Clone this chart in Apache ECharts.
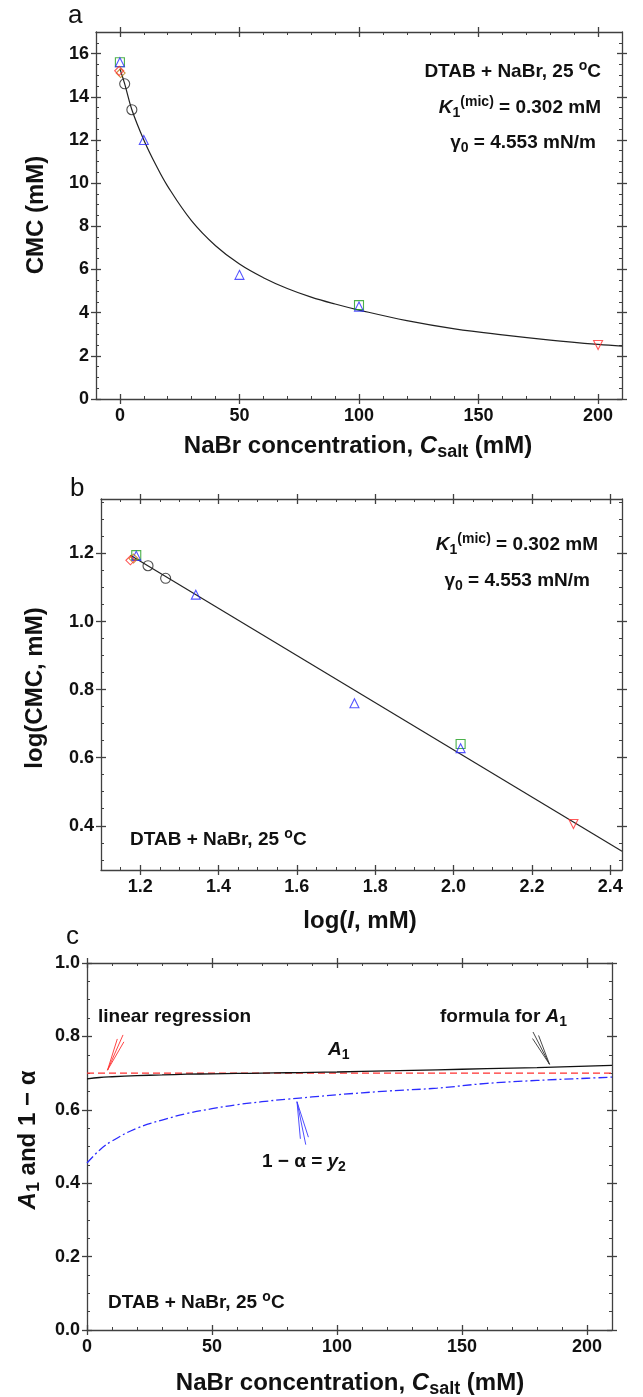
<!DOCTYPE html>
<html>
<head>
<meta charset="utf-8">
<script src="https://cdn.jsdelivr.net/npm/echarts@6/dist/echarts.min.js"></script>
<style>html,body{margin:0;padding:0;background:#fff}#c{width:643px;height:1397px}</style>
</head>
<body>
<div id="c"></div>
<script>
// ---------- DATA ----------
// Panel a: CMC vs NaBr concentration
const aFitX = [0, 2, 5, 10, 15, 20, 30, 40, 50, 60, 70, 80, 90, 100, 120, 140, 160, 180, 200, 210];
const aFitY = [15.3, 14.6, 13.4, 12.0, 10.85, 9.85, 8.25, 7.1, 6.25, 5.62, 5.12, 4.72, 4.40, 4.12, 3.63, 3.25, 2.97, 2.73, 2.53, 2.45];
const aCircleX = [2, 5];            const aCircleY = [14.6, 13.4];
const aTriX = [0, 10, 50, 100];     const aTriY = [15.6, 12.0, 5.75, 4.28];
const aSquareX = [0, 100];          const aSquareY = [15.6, 4.35];
const aDiamondRedX = [-0.3];        const aDiamondRedY = [15.2];
const aDiamondOrX = [0.3];          const aDiamondOrY = [15.1];
const aInvTriX = [200];             const aInvTriY = [2.5];
const aXTicks = [0, 50, 100, 150, 200];
const aYTicks = [0, 2, 4, 6, 8, 10, 12, 14, 16];

// Panel b: log(CMC) vs log(I)
const bLineX = [1.175, 2.43];       const bLineY = [1.195, 0.325];
const bCircleX = [1.22, 1.265];     const bCircleY = [1.164, 1.127];
const bTriX = [1.19, 1.342, 1.747, 2.018]; const bTriY = [1.193, 1.079, 0.76, 0.628];
const bSquareX = [1.19, 2.018];     const bSquareY = [1.195, 0.64];
const bDiamondRedX = [1.175];       const bDiamondRedY = [1.18];
const bDiamondOrX = [1.183];        const bDiamondOrY = [1.185];
const bInvTriX = [2.306];           const bInvTriY = [0.405];
const bXTicks = [1.2, 1.4, 1.6, 1.8, 2.0, 2.2, 2.4];
const bYTicks = [0.4, 0.6, 0.8, 1.0, 1.2];

// Panel c: A1 and 1 - alpha vs NaBr concentration
const cX   = [0, 5, 10, 20, 30, 40, 50, 60, 70, 80, 90, 100, 120, 140, 160, 180, 200, 210];
const cA1  = [0.684, 0.688, 0.690, 0.693, 0.695, 0.697, 0.698, 0.699, 0.700, 0.701, 0.702, 0.703, 0.706, 0.709, 0.712, 0.715, 0.719, 0.721];
const cY2  = [0.455, 0.49, 0.515, 0.55, 0.572, 0.59, 0.603, 0.614, 0.622, 0.629, 0.635, 0.641, 0.651, 0.659, 0.672, 0.680, 0.686, 0.689];
const cRegX = [0, 210];             const cRegY = [0.70, 0.70];
// arrows: [x0, y0, x1(tip), y1(tip)]
const cArrows = [[14.4, 0.804, 8.2, 0.708], [178.4, 0.812, 185, 0.724], [87.5, 0.505, 84, 0.622]];
const cXTicks = [0, 50, 100, 150, 200];
const cYTicks = [0.0, 0.2, 0.4, 0.6, 0.8, 1.0];

// ---------- HELPERS ----------
const FONT = "'Liberation Sans', Arial, Helvetica, sans-serif";
const AX = '#404040';
function zip(xs, ys) { return xs.map((x, i) => [x, ys[i]]); }
function minorTicks(min, max, step) {
  const out = [];
  for (let k = Math.ceil(min / step - 1e-9); k * step <= max + 1e-9; k++) out.push(+(k * step).toFixed(6));
  return out;
}
const xAxes = [], yAxes = [];
function addAxes(list, gridIndex, min, max, majors, minors, fmt, isX) {
  const positions = isX ? ['bottom', 'top'] : ['left', 'right'];
  let mainIdx = -1;
  positions.forEach((pos, pi) => {
    const base = { type: 'value', gridIndex, min, max, position: pos, splitLine: { show: false }, axisPointer: { show: false } };
    const idx = list.length;
    list.push(Object.assign({}, base, {
      axisLine: { show: true, onZero: false, lineStyle: { color: AX, width: 1.3 } },
      axisTick: { show: true, inside: false, length: 5, customValues: majors, lineStyle: { color: AX, width: 1.3 } },
      axisLabel: { show: pi === 0, customValues: majors, formatter: fmt, color: '#111', fontFamily: FONT, fontWeight: 'bold', fontSize: 18, margin: isX ? 8 : 7 }
    }));
    if (pi === 0) mainIdx = idx;
    list.push(Object.assign({}, base, {
      axisLine: { show: false, onZero: false }, axisLabel: { show: false },
      axisTick: { show: true, inside: true, length: 5, customValues: majors, lineStyle: { color: AX, width: 1.3 } }
    }));
    list.push(Object.assign({}, base, {
      axisLine: { show: false, onZero: false }, axisLabel: { show: false },
      axisTick: { show: true, inside: true, length: 3, customValues: minors, lineStyle: { color: AX, width: 1 } }
    }));
  });
  return mainIdx;
}
const fInt = v => String(Math.round(v));
const f1 = v => (+v).toFixed(1);

const grids = [
  { left: 96, top: 32, right: 21, bottom: 998 },
  { left: 101, top: 499, right: 21, bottom: 527 },
  { left: 87, top: 963, right: 31, bottom: 67 }
];
const ax = { x: [], y: [] };
ax.x[0] = addAxes(xAxes, 0, -10, 210, aXTicks, minorTicks(-10, 210, 10), fInt, true);
ax.y[0] = addAxes(yAxes, 0, 0, 17, aYTicks, minorTicks(0, 17, 0.5), fInt, false);
ax.x[1] = addAxes(xAxes, 1, 1.1, 2.43, bXTicks, minorTicks(1.1, 2.43, 0.05), f1, true);
ax.y[1] = addAxes(yAxes, 1, 0.27, 1.36, bYTicks, minorTicks(0.27, 1.36, 0.05), f1, false);
ax.x[2] = addAxes(xAxes, 2, 0, 210, cXTicks, minorTicks(0, 210, 10), fInt, true);
ax.y[2] = addAxes(yAxes, 2, 0, 1, cYTicks, minorTicks(0, 1, 0.05), f1, false);

function scatter(g, xs, ys, symbol, color, size, rot) {
  return { type: 'scatter', xAxisIndex: ax.x[g], yAxisIndex: ax.y[g], data: zip(xs, ys), symbol, symbolSize: size, symbolRotate: rot || 0,
    itemStyle: { color: 'rgba(0,0,0,0)', borderColor: color, borderWidth: 1.1 }, z: 5 };
}
function line(g, xs, ys, color, width, type, smooth) {
  return { type: 'line', xAxisIndex: ax.x[g], yAxisIndex: ax.y[g], data: zip(xs, ys), showSymbol: false, smooth: smooth || false,
    lineStyle: { color, width, type: type || 'solid' }, z: 3 };
}
const BLUE = '#2b2bff', GREEN = '#1e9e1e', RED = '#ff3030', ORANGE = '#c07a10';
const series = [
  line(0, aFitX, aFitY, '#222', 1.2, 'solid', 0.4),
  scatter(0, aSquareX, aSquareY, 'rect', GREEN, 9),
  scatter(0, aTriX, aTriY, 'triangle', BLUE, 9),
  scatter(0, aCircleX, aCircleY, 'circle', '#222', 10),
  scatter(0, aDiamondOrX, aDiamondOrY, 'diamond', ORANGE, 9),
  scatter(0, aDiamondRedX, aDiamondRedY, 'diamond', RED, 9),
  scatter(0, aInvTriX, aInvTriY, 'triangle', RED, 9, 180),

  line(1, bLineX, bLineY, '#222', 1.2),
  scatter(1, bSquareX, bSquareY, 'rect', GREEN, 9),
  scatter(1, bTriX, bTriY, 'triangle', BLUE, 9),
  scatter(1, bCircleX, bCircleY, 'circle', '#222', 10),
  scatter(1, bDiamondOrX, bDiamondOrY, 'diamond', ORANGE, 9),
  scatter(1, bDiamondRedX, bDiamondRedY, 'diamond', RED, 9),
  scatter(1, bInvTriX, bInvTriY, 'triangle', RED, 9, 180),

  line(2, cRegX, cRegY, RED, 1.3, [7, 4]),
  line(2, cX, cA1, '#111', 1.3, 'solid', 0.4),
  line(2, cX, cY2, BLUE, 1.3, [9, 3, 2, 3], 0.4),
  {
    type: 'custom', xAxisIndex: ax.x[2], yAxisIndex: ax.y[2], data: cArrows, z: 6,
    encode: { x: [0, 2], y: [1, 3] },
    renderItem: function (params, api) {
      const colors = ['#ff3030', '#333', '#3a3aff'];
      const c = colors[params.dataIndex];
      const s = api.coord([api.value(0), api.value(1)]);
      const t = api.coord([api.value(2), api.value(3)]);
      const dx = s[0] - t[0], dy = s[1] - t[1];
      const L = Math.sqrt(dx * dx + dy * dy);
      const ang = Math.atan2(dy, dx);
      const bl = L * 0.85, da = 0.11;
      const b1 = [t[0] + bl * Math.cos(ang + da), t[1] + bl * Math.sin(ang + da)];
      const b2 = [t[0] + bl * Math.cos(ang - da), t[1] + bl * Math.sin(ang - da)];
      const st = { stroke: c, lineWidth: 0.9, fill: null };
      return { type: 'group', children: [
        { type: 'line', shape: { x1: s[0], y1: s[1], x2: t[0], y2: t[1] }, style: st },
        { type: 'line', shape: { x1: b1[0], y1: b1[1], x2: t[0], y2: t[1] }, style: st },
        { type: 'line', shape: { x1: b2[0], y1: b2[1], x2: t[0], y2: t[1] }, style: st }
      ]};
    }
  }
];

// ---------- TEXT ----------
function rich(S) {
  return {
    it: { fontStyle: 'italic', fontWeight: 'bold', fontSize: S, fontFamily: FONT, fill: '#111' },
    sub: { fontSize: Math.round(S * 0.74), fontWeight: 'bold', fontFamily: FONT, fill: '#111', padding: [Math.round(S * 0.55), 0, 0, 0] },
    sup: { fontSize: Math.round(S * 0.74), fontWeight: 'bold', fontFamily: FONT, fill: '#111', padding: [0, 0, Math.round(S * 0.6), 0] }
  };
}
function T(x, y, text, S, align, opts) {
  opts = opts || {};
  return { type: 'text', x, y, rotation: opts.rot || 0, z: 10,
    style: { text, fontSize: S, fontFamily: FONT, fontWeight: opts.normal ? 'normal' : 'bold', fill: '#111',
      align: align || 'left', verticalAlign: 'middle', rich: rich(S) } };
}
const graphics = [
  T(68, 16, 'a', 26, 'left', { normal: true }),
  T(36, 215, 'CMC (mM)', 24, 'center', { rot: Math.PI / 2 }),
  T(358, 446, 'NaBr concentration, {it|C}{sub|salt} (mM)', 24, 'center'),
  T(601, 72, 'DTAB + NaBr, 25 {sup|o}C', 19, 'right'),
  T(601, 108, '{it|K}{sub|1}{sup|(mic)} = 0.302 mM', 19, 'right'),
  T(523, 143, 'γ{sub|0} = 4.553 mN/m', 19, 'center'),

  T(70, 489, 'b', 26, 'left', { normal: true }),
  T(35, 688, 'log(CMC, mM)', 24, 'center', { rot: Math.PI / 2 }),
  T(360, 921, 'log({it|I}, mM)', 24, 'center'),
  T(598, 545, '{it|K}{sub|1}{sup|(mic)} = 0.302 mM', 19, 'right'),
  T(590, 581, 'γ{sub|0} = 4.553 mN/m', 19, 'right'),
  T(130, 840, 'DTAB + NaBr, 25 {sup|o}C', 19, 'left'),

  T(66, 937, 'c', 26, 'left', { normal: true }),
  T(28, 1140, '{it|A}{sub|1} and 1 − α', 24, 'center', { rot: Math.PI / 2 }),
  T(350, 1383, 'NaBr concentration, {it|C}{sub|salt} (mM)', 24, 'center'),
  T(98, 1017, 'linear regression', 19, 'left'),
  T(440, 1017, 'formula for {it|A}{sub|1}', 19, 'left'),
  T(328, 1050, '{it|A}{sub|1}', 19, 'left'),
  T(262, 1162, '1 − α = {it|y}{sub|2}', 19, 'left'),
  T(108, 1303, 'DTAB + NaBr, 25 {sup|o}C', 19, 'left')
];

const chart = echarts.init(document.getElementById('c'), null, { renderer: 'canvas' });
chart.setOption({
  animation: false,
  backgroundColor: '#fff',
  grid: grids,
  xAxis: xAxes,
  yAxis: yAxes,
  series,
  graphic: graphics
});
</script>
</body>
</html>
